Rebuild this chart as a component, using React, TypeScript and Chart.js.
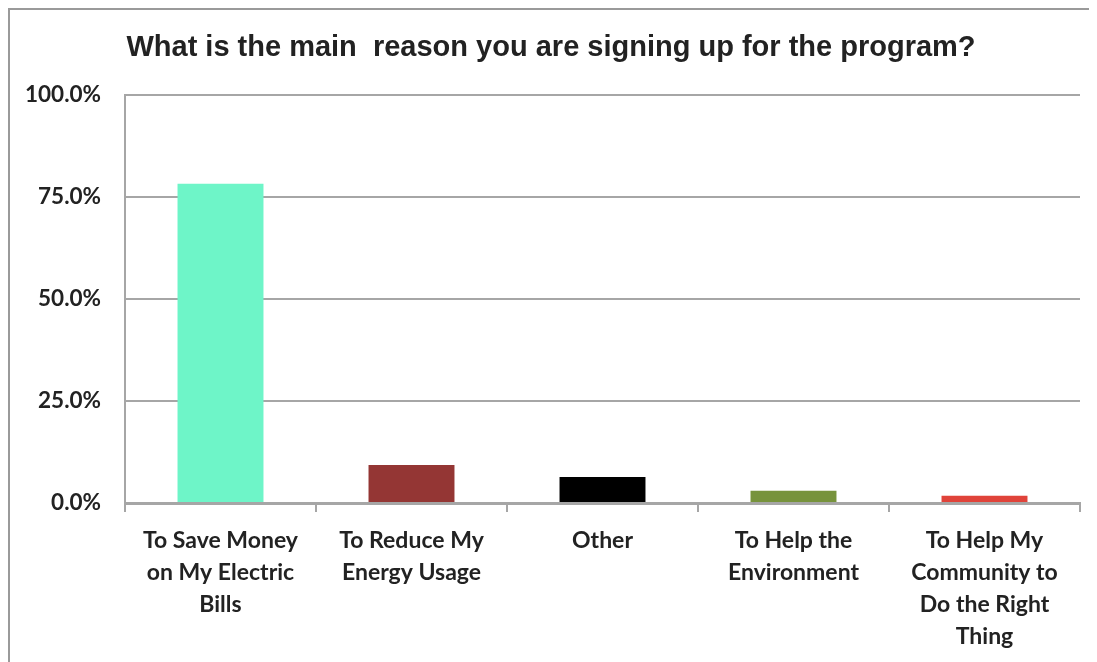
import { Chart, registerables } from "chart.js";
import { useEffect, useRef } from "react";

Chart.register(...registerables);

const categories: string[][] = [
  ["To Save Money", "on My Electric", "Bills"],
  ["To Reduce My", "Energy Usage"],
  ["Other"],
  ["To Help the", "Environment"],
  ["To Help My", "Community to", "Do the Right", "Thing"],
];
const shares = [78.2, 9.3, 6.4, 3.0, 1.8];
const barColors = ["#6ef5c8", "#943634", "#000000", "#77933c", "#e0433a"];
const yTicks = [0, 25, 50, 75, 100];

const title = "What is the main  reason you are signing up for the program?";

export default function App() {
  const ref = useRef<HTMLCanvasElement>(null);

  useEffect(() => {
    if (!ref.current) return;
    const axisGrey = "#a6a6a6";
    const ink = "#222222";

    const chart = new Chart(ref.current, {
      type: "bar",
      data: {
        labels: categories,
        datasets: [
          {
            data: shares,
            backgroundColor: barColors,
            borderWidth: 0,
            barPercentage: 0.45,
            categoryPercentage: 1,
          },
        ],
      },
      options: {
        animation: false,
        responsive: true,
        maintainAspectRatio: false,
        layout: { padding: { left: 12, right: 19, top: 0, bottom: 0 } },
        plugins: {
          legend: { display: false },
          tooltip: { enabled: false },
          title: {
            display: true,
            text: title,
            color: ink,
            font: { family: "'Liberation Sans', Arial", size: 29, weight: "bold" },
            padding: { top: 21, bottom: 29 },
          },
        },
        scales: {
          x: {
            afterFit: (s) => {
              s.height = 159;
            },
            grid: {
              display: true,
              drawOnChartArea: false,
              drawTicks: true,
              tickLength: 9,
              color: axisGrey,
              lineWidth: 2,
              offset: true,
            },
            border: { display: true, color: axisGrey, width: 3 },
            ticks: {
              color: ink,
              padding: 12,
              maxRotation: 0,
              autoSkip: false,
              font: { family: "Lato, 'Open Sans'", size: 23, weight: "bold", lineHeight: 1.4 },
            },
          },
          y: {
            min: 0,
            max: 100,
            afterFit: (s) => {
              s.width = 103;
            },
            afterBuildTicks: (s) => {
              s.ticks = yTicks.map((v) => ({ value: v }));
            },
            grid: { color: axisGrey, lineWidth: 2, drawTicks: false },
            border: { display: true, color: axisGrey, width: 2 },
            ticks: {
              color: ink,
              padding: 24,
              callback: (v) => `${Number(v).toFixed(1)}%`,
              font: { family: "Lato, 'Open Sans'", size: 22.5, weight: "bold" },
            },
          },
        },
      },
    });
    return () => chart.destroy();
  }, []);

  return (
    <div
      style={{
        width: 1089,
        height: 652,
        borderTop: "2px solid #9a9a9a",
        borderLeft: "2px solid #9a9a9a",
        background: "#fff",
      }}
    >
      <canvas ref={ref} />
    </div>
  );
}
